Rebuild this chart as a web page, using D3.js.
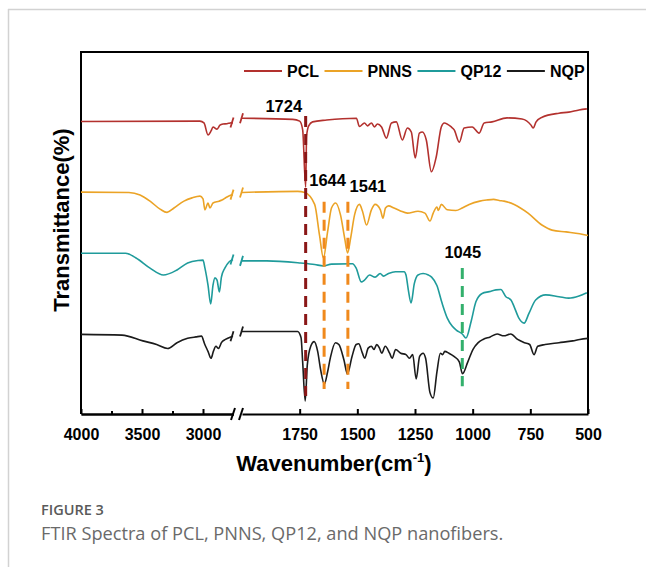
<!DOCTYPE html>
<html><head><meta charset="utf-8">
<script src="https://cdn.jsdelivr.net/npm/d3@7"></script>
<style>body{margin:0;background:#fff}svg{display:block}</style>
</head><body>
<svg id="chart" width="646" height="567"></svg>
<script>
// ---------------- DATA ----------------
const seriesNames = ["PCL", "PNNS", "QP12", "NQP"];

const pclWn = [4000,3025,2992,2959,2934,2918,2885,2861,2836,2803,2779,2754,
  2000,1780,1750,1737,1724,1720,1711,1694,1633,1504,1491,1469,1456,1439,1426,1413,1395,1374,1352,1331,1305,1283,1266,1249,1231,1218,1201,1179,1158,1136,1123,1093,1080,1058,1037,1002,972,950,916,851,786,747,738,725,699,626,583,539,505];
const pclT = [80.8,80.9,80.4,77.1,78.2,79.3,78.7,79.8,80.1,80.2,80.4,80.5,
  81.7,81.4,80.9,78.5,62.7,76.8,79.6,80.7,81.2,81.7,79.4,80.4,79.6,80.4,79.3,80.1,79.3,76.2,80.4,80.7,75.7,79.0,77.9,70.7,77.6,77.9,75.7,66.9,71.0,79.3,80.4,79.3,78.5,75.1,79.0,79.3,77.6,80.4,80.7,81.8,81.5,79.8,79.0,80.7,82.0,83.1,83.4,84.0,84.3];

const pnnsWn = [4000,3607,3516,3434,3352,3295,3238,3156,3090,3025,3000,2984,2959,2943,2918,2869,2844,2811,2770,2754,
  2000,1759,1728,1685,1664,1647,1629,1612,1594,1573,1555,1542,1529,1512,1491,1478,1460,1439,1423,1400,1389,1378,1365,1341,1313,1283,1237,1207,1185,1171,1155,1149,1136,1110,1073,1045,1015,969,940,909,885,864,820,760,700,656,595,536,500];
const pnnsT = [61.3,61.2,60.5,58.8,56.6,55.7,56.9,58.8,59.7,60.2,59.4,56.4,58.3,56.9,58.3,58.8,59.1,59.8,60.5,60.6,
  61.2,61.5,61.2,57.9,49.4,43.1,50.3,56.9,58.3,55.0,48.6,44.5,48.6,55.0,57.9,56.1,52.2,56.4,57.9,56.4,54.1,56.9,57.5,56.9,56.1,55.5,56.0,55.5,53.3,55.5,57.2,56.2,57.9,56.4,56.2,56.9,57.9,58.8,59.1,59.3,59.0,58.8,57.9,55.5,52.2,50.8,50.3,49.8,49.3];

const qp12Wn = [4000,3635,3549,3434,3325,3213,3126,3041,3000,2984,2959,2937,2918,2902,2885,2866,2849,2821,2787,2754,
  2000,1893,1746,1685,1647,1612,1521,1505,1483,1469,1447,1423,1401,1387,1365,1335,1297,1289,1279,1267,1253,1237,1215,1192,1178,1155,1133,1110,1089,1071,1045,1029,1007,986,959,928,899,878,856,834,820,799,777,756,727,683,626,583,539,505];
const qp12T = [44.4,44.4,43.1,40.3,38.4,39.8,41.7,42.4,42.5,40.3,35.6,30.4,35.6,37.6,37.0,33.7,37.8,40.3,42.0,42.7,
  42.3,42.3,41.7,41.3,40.9,41.4,41.5,40.3,36.5,37.0,38.4,37.8,38.8,38.1,38.8,39.3,39.3,38.4,34.3,30.7,36.0,38.4,38.8,38.4,37.8,35.5,30.7,26.5,24.3,23.2,22.1,21.0,25.5,31.0,33.3,33.8,34.3,34.4,32.4,31.5,29.6,26.4,25.1,27.8,31.5,32.9,32.4,32.0,32.6,33.5];

const nqpWn = [4000,3664,3493,3380,3290,3213,3126,3057,3013,2985,2959,2934,2915,2894,2872,2849,2816,2773,2754,
  2000,1759,1744,1737,1726,1717,1702,1687,1672,1659,1643,1629,1617,1595,1580,1558,1543,1523,1505,1494,1478,1468,1453,1439,1428,1416,1404,1394,1379,1360,1349,1334,1312,1289,1274,1260,1245,1230,1215,1204,1185,1171,1155,1140,1130,1121,1103,1081,1058,1044,1021,999,976,955,924,894,865,835,805,775,753,734,718,686,626,566,536,500];
const nqpT = [22.0,21.8,20.2,19.2,18.1,19.7,20.9,21.3,21.5,19.2,17.3,15.4,17.3,18.7,18.1,19.7,20.6,21.3,21.5,
  22.8,22.8,21.1,14.4,3.6,13.5,18.7,20.0,17.3,12.2,8.3,11.6,15.5,19.7,19.2,14.9,11.1,15.9,19.2,19.4,16.8,15.4,18.2,18.7,17.8,19.2,18.2,16.8,18.7,16.8,15.4,17.8,16.8,16.4,15.4,16.4,9.7,15.9,16.8,15.4,5.9,4.4,11.6,16.8,16.4,17.3,16.8,15.9,14.4,11.1,14.4,17.8,19.7,20.6,21.3,22.1,21.6,22.1,20.6,19.7,19.2,16.4,18.7,19.2,19.7,20.2,20.6,20.9];

const seriesWn = [pclWn, pnnsWn, qp12Wn, nqpWn];
const seriesT = [pclT, pnnsT, qp12T, nqpT];

// peak markers (wavenumber, vertical extent in transmittance units)
const peakWn = [1724, 1644, 1541, 1045];
const peakLabels = ["1724", "1644", "1541", "1045"];
const peakTop = [82.3, 58.6, 58.6, 40.3];
const peakBottom = [5.0, 6.9, 6.9, 7.7];

// axis ticks
const leftTicks = [4000, 3500, 3000];
const leftMinorTicks = [3750, 3250];
const rightTicks = [1750, 1500, 1250, 1000, 750, 500];

// ---------------- STYLE / LAYOUT ----------------
const colors = ["#b3312e", "#eba326", "#1f9b9b", "#1b1b1b"];
const peakColors = ["#8a1717", "#f0891c", "#f0891c", "#33b06c"];
const peakLabelPos = [[1819, 83.4], [1629, 63.0], [1454, 61.3], [1043, 43.1]];
const boldFont = "'Liberation Sans', Arial, sans-serif";

const L = 81, R = 588, T = 52, B = 414;
const breakL = 233.5, breakR = 242;

const svg = d3.select("#chart");

// card border
svg.append("line").attr("x1", 8.5).attr("x2", 8.5).attr("y1", 9).attr("y2", 567)
  .attr("stroke", "#d2d2d2").attr("stroke-width", 1.5);
svg.append("line").attr("x1", 8).attr("x2", 646).attr("y1", 9.5).attr("y2", 9.5)
  .attr("stroke", "#d2d2d2").attr("stroke-width", 1.5);

const xL = d3.scaleLinear().domain([4000, 2750]).range([L, breakL]);
const xR = d3.scaleLinear().domain([2000, 500]).range([breakR, R]);
const y = d3.scaleLinear().domain([0, 100]).range([B, T]);
const xAny = w => (w >= 2750 ? xL(w) : xR(w));

// frame (left, top, right)
const frame = svg.append("g").attr("stroke", "#000").attr("stroke-width", 2).attr("fill", "none");
frame.append("path").attr("d", `M${L},${B}V${T}H${R}V${B}`);

// axes
function styleAxis(g) {
  g.select(".domain").attr("stroke", "#000").attr("stroke-width", 2);
  g.selectAll(".tick line").attr("stroke", "#000").attr("stroke-width", 2);
  g.selectAll(".tick text").attr("font-family", boldFont).attr("font-weight", "bold")
    .attr("font-size", 16).attr("fill", "#000");
}
const axL = d3.axisBottom(xL).tickValues(leftTicks).tickSizeInner(-5).tickSizeOuter(0)
  .tickPadding(15).tickFormat(d3.format("d"));
svg.append("g").attr("transform", `translate(0,${B})`).call(axL).call(styleAxis);
const axLm = d3.axisBottom(xL).tickValues(leftMinorTicks).tickSizeInner(-3).tickSizeOuter(0)
  .tickFormat("");
svg.append("g").attr("transform", `translate(0,${B})`).call(axLm).call(styleAxis);
const axR = d3.axisBottom(xR).tickValues(rightTicks).tickSizeInner(-5).tickSizeOuter(0)
  .tickPadding(15).tickFormat(d3.format("d"));
svg.append("g").attr("transform", `translate(0,${B})`).call(axR).call(styleAxis);

// axis break marks
[breakL - 0.5, breakR - 1].forEach(bx => {
  svg.append("line").attr("x1", bx - 2).attr("y1", B + 6).attr("x2", bx + 2).attr("y2", B - 6)
    .attr("stroke", "#000").attr("stroke-width", 2);
});

// axis titles
const xt = svg.append("text").attr("x", 334).attr("y", 470.5).attr("text-anchor", "middle")
  .attr("font-family", boldFont).attr("font-weight", "bold").attr("font-size", 22).attr("fill", "#000");
xt.append("tspan").text("Wavenumber(cm");
xt.append("tspan").attr("font-size", 13).attr("dy", -9).text("-1");
xt.append("tspan").attr("dy", 9).text(")");

svg.append("text").attr("transform", "translate(69,220) rotate(-90)").attr("text-anchor", "middle")
  .attr("font-family", boldFont).attr("font-weight", "bold").attr("font-size", 22).attr("fill", "#000")
  .text("Transmittance(%)");

// spectra
const line = d3.line().x(d => xAny(d[0])).y(d => y(d[1])).curve(d3.curveMonotoneX);
seriesNames.forEach((name, i) => {
  const pts = seriesWn[i].map((w, j) => [w, seriesT[i][j]]);
  const left = pts.filter(p => p[0] >= 2750);
  const right = pts.filter(p => p[0] <= 2000);
  const g = svg.append("g").attr("stroke", colors[i]).attr("fill", "none").attr("stroke-width", 1.6);
  g.append("path").attr("d", line(left.slice().reverse()));
  g.append("path").attr("d", line(right.slice().reverse()));
  // break slashes
  const yl = y(left[left.length - 1][1]);
  const yr = y(right[0][1]);
  g.append("line").attr("x1", breakL - 3).attr("y1", yl + 5).attr("x2", breakL).attr("y2", yl - 5).attr("stroke-width", 1.8);
  g.append("line").attr("x1", breakR - 2).attr("y1", yr + 5).attr("x2", breakR + 1).attr("y2", yr - 5).attr("stroke-width", 1.8);
});

// peak markers
peakWn.forEach((w, i) => {
  svg.append("line").attr("x1", xR(w)).attr("x2", xR(w))
    .attr("y1", y(peakTop[i])).attr("y2", y(peakBottom[i]))
    .attr("stroke", peakColors[i]).attr("stroke-width", 3).attr("stroke-dasharray", "11,7");
  svg.append("text").attr("x", xR(peakLabelPos[i][0])).attr("y", y(peakLabelPos[i][1]))
    .attr("text-anchor", "middle").attr("font-family", boldFont).attr("font-weight", "bold")
    .attr("font-size", 16.5).attr("fill", "#000").text(peakLabels[i]);
});

// legend
let lx = 244;
const ly = 71;
seriesNames.forEach((name, i) => {
  svg.append("line").attr("x1", lx).attr("x2", lx + 38).attr("y1", ly).attr("y2", ly)
    .attr("stroke", colors[i]).attr("stroke-width", 2);
  const t = svg.append("text").attr("x", lx + 43).attr("y", ly + 6)
    .attr("font-family", boldFont).attr("font-weight", "bold").attr("font-size", 16)
    .attr("fill", "#000").text(name);
  lx = lx + 43 + t.node().getComputedTextLength() + 5.5;
});

// caption
svg.append("text").attr("x", 41).attr("y", 515).attr("font-family", "'Open Sans', sans-serif")
  .attr("font-weight", 600).attr("font-size", 14.5).attr("fill", "#5a5a5a").text("FIGURE 3");
svg.append("text").attr("x", 41).attr("y", 539.5).attr("font-family", "'Open Sans', sans-serif")
  .attr("font-size", 18.2).attr("fill", "#6a6a6a").text("FTIR Spectra of PCL, PNNS, QP12, and NQP nanofibers.");
</script>
</body></html>
